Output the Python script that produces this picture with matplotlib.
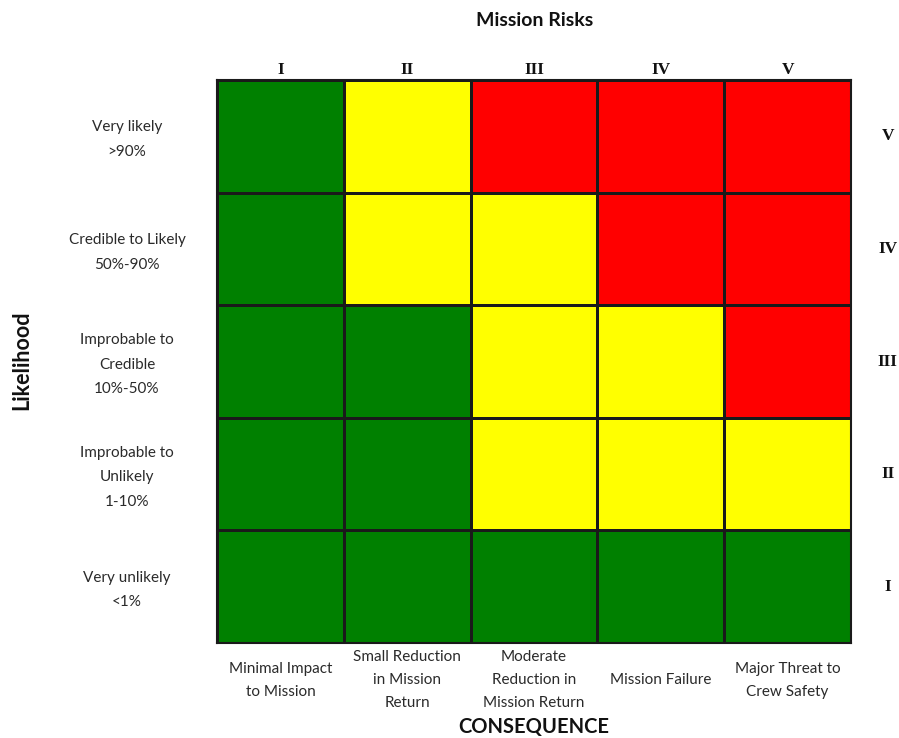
import numpy as np
import matplotlib
matplotlib.use('Agg')
import matplotlib.pyplot as plt
from matplotlib.colors import ListedColormap

# Risk levels: 0 = low (green), 1 = medium (yellow), 2 = high (red)
# rows from top (likelihood V) to bottom (likelihood I), columns consequence I..V
risk_grid = [
    [0, 1, 2, 2, 2],
    [0, 1, 1, 2, 2],
    [0, 0, 1, 1, 2],
    [0, 0, 1, 1, 1],
    [0, 0, 0, 0, 0],
]
consequence_numerals = ['I', 'II', 'III', 'IV', 'V']
likelihood_numerals = ['V', 'IV', 'III', 'II', 'I']
likelihood_labels = ['Very likely\n>90%', 'Credible to Likely\n50%-90%',
                     'Improbable to\nCredible\n10%-50%',
                     'Improbable to\nUnlikely\n1-10%', 'Very unlikely\n<1%']
consequence_labels = ['Minimal Impact\nto Mission', 'Small Reduction\nin Mission\nReturn',
                      'Moderate\nReduction in\nMission Return', 'Mission Failure',
                      'Major Threat to\nCrew Safety']
colors = ['#008000', '#FFFF00', '#FF0000']

fig = plt.figure(figsize=(8.99, 7.38), dpi=100)
ax = fig.add_axes([217 / 899, 95 / 738, 634 / 899, 563 / 738])

grid = np.array(risk_grid)
ax.pcolormesh(np.arange(6), np.arange(6), grid[::-1], cmap=ListedColormap(colors),
              vmin=-0.5, vmax=2.5, edgecolors='#1a1a1a', linewidth=1.0)
ax.set_xlim(0, 5)
ax.set_ylim(0, 5)
ax.set_xticks([])
ax.set_yticks([])
for s in ax.spines.values():
    s.set_linewidth(1.5)
    s.set_color('#1a1a1a')

label_font = 'Lato'
serif = 'Liberation Serif'
txt_col = '#2a2a2a'

# top numerals
for i, n in enumerate(consequence_numerals):
    ax.text(i + 0.5, 5.09, n, ha='center', va='center', fontsize=12.5,
            fontweight='bold', family=serif, color='#111111')
# right numerals
for j, n in enumerate(likelihood_numerals):
    ax.text(5.29, 4.5 - j, n, ha='center', va='center', fontsize=12.5,
            fontweight='bold', family=serif, color='#111111')
# left labels
for j, lab in enumerate(likelihood_labels):
    ax.text(-0.71, 4.47 - j, lab, ha='center', va='center', fontsize=11,
            family=label_font, color=txt_col, linespacing=1.95)
# bottom labels
for i, lab in enumerate(consequence_labels):
    ax.text(i + 0.5, -0.33, lab, ha='center', va='center', fontsize=11,
            family=label_font, color=txt_col, linespacing=1.8)

fig.text(535 / 899, 1 - 20 / 738, 'Mission Risks', ha='center', va='center',
         fontsize=14, fontweight='bold', family=label_font, color='#111111')
fig.text(534 / 899, 1 - 727 / 738, 'CONSEQUENCE', ha='center', va='center',
         fontsize=14.5, fontweight='bold', family=label_font, color='#111111')
fig.text(22 / 899, 1 - 360 / 738, 'Likelihood', ha='center', va='center',
         rotation=90, fontsize=15.5, fontweight='bold', family=label_font, color='#111111')

fig.savefig('out.png', dpi=100)
